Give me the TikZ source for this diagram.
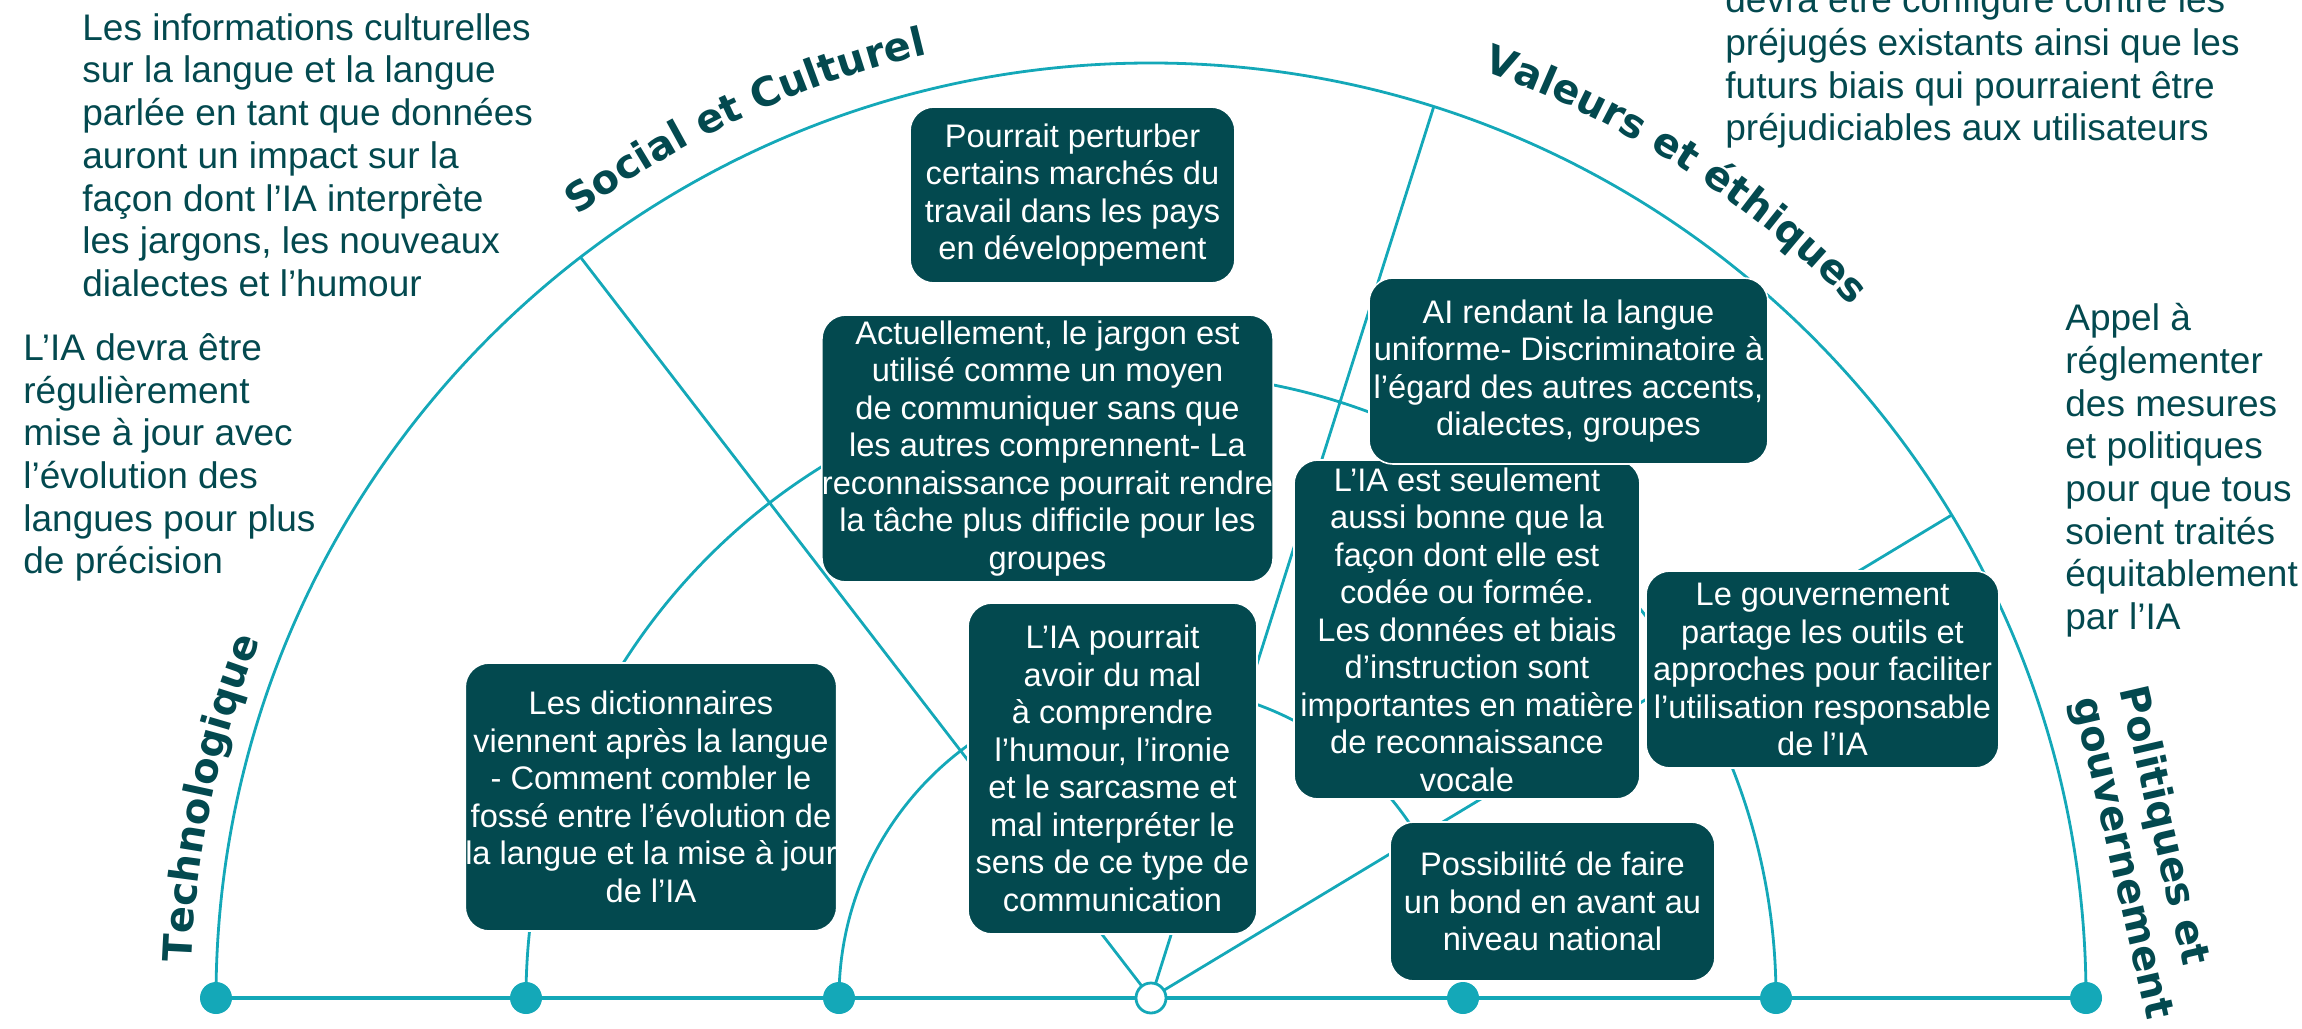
\documentclass[tikz,border=0pt]{standalone}
\usepackage{fontspec}
\setmainfont{Liberation Sans}
\newfontfamily\headfam{DejaVu Sans}
\usetikzlibrary{decorations.text}
\definecolor{lineteal}{RGB}{20,168,184}
\definecolor{boxfill}{RGB}{3,73,79}
\definecolor{darkteal}{RGB}{3,73,79}
\newcommand\bxfont{\fontsize{16.3}{18.75}\selectfont}
\newcommand\otfont{\fontsize{18.5}{21.35}\selectfont}
\newcommand\hdfont{\headfam\bfseries\fontsize{20}{23.5}\selectfont}
\begin{document}
\begin{tikzpicture}[x=0.5pt,y=0.5pt,
  arcline/.style={draw=lineteal, line width=1.4pt},
  baseln/.style={draw=lineteal, line width=2pt},
  dot/.style={circle, fill=lineteal, minimum size=16pt, inner sep=0pt},
  hollow/.style={circle, fill=white, draw=lineteal, line width=1.4pt, minimum size=15pt, inner sep=0pt},
  box/.style={rounded corners=12pt, fill=boxfill, draw=white, line width=0.8pt, text=white, align=center, inner sep=0pt, font=\bxfont},
  outtext/.style={text=darkteal, align=left, inner sep=0pt, anchor=north west, font=\otfont},
  heading/.style={decorate, decoration={text along path, text align=center, text={|\hdfont\color{darkteal}|#1}}},
]
\useasboundingbox (0,0) rectangle (2302,-1028);
\clip (0,0) rectangle (2302,-1028);

% base points
\coordinate (C) at (1151,-998);
\coordinate (p1) at (216,-998);
\coordinate (p2) at (526,-998);
\coordinate (p3) at (839,-998);
\coordinate (p5) at (1463,-998);
\coordinate (p6) at (1776,-998);
\coordinate (p7) at (2086,-998);
\path (C) ++(127.6:935) coordinate (ra);
\path (C) ++(72.4:935) coordinate (rb);
\path (C) ++(31.1:935) coordinate (rc);

% arcs and radial lines
\draw[arcline] (p1) arc[start angle=180, end angle=0, radius=935];
\draw[arcline] (p2) arc[start angle=180, end angle=0, radius=625];
\draw[arcline] (p3) arc[start angle=180, end angle=0, radius=312];
\draw[arcline] (C) -- (ra);
\draw[arcline] (C) -- (rb);
\draw[arcline] (C) -- (rc);
\draw[baseln] (p1) -- (p7);

% dots
\node[dot] (d1) at (p1) {};
\node[dot] (d2) at (p2) {};
\node[dot] (d3) at (p3) {};
\node[hollow] (ctr) at (C) {};
\node[dot] (d5) at (p5) {};
\node[dot] (d6) at (p6) {};
\node[dot] (d7) at (p7) {};

% boxes
\node[box, minimum width=162.5pt, minimum height=88pt] (bP) at (1072.5,-195)
  {Pourrait perturber\\certains marchés du\\travail dans les pays\\en développement};
\node[box, minimum width=223.5pt, minimum height=133.5pt] (bA) at (1047.5,-448.5)
  {Actuellement, le jargon est\\utilisé comme un moyen\\de communiquer sans que\\les autres comprennent- La\\reconnaissance pourrait rendre\\la tâche plus difficile pour les\\groupes};
\node[box, minimum width=173pt, minimum height=169.5pt] (bS) at (1467,-629.5)
  {L’IA est seulement\\aussi bonne que la\\façon dont elle est\\codée ou formée.\\Les données et biais\\d’instruction sont\\importantes en matière\\de reconnaissance\\vocale};
\node[box, minimum width=199.5pt, minimum height=93pt] (bR) at (1568.5,-371)
  {AI rendant la langue\\uniforme- Discriminatoire à\\l’égard des autres accents,\\dialectes, groupes};
\node[box, minimum width=144.5pt, minimum height=165.5pt] (bL) at (1112.5,-768.5)
  {L’IA pourrait\\avoir du mal\\à comprendre\\l’humour, l’ironie\\et le sarcasme et\\mal interpréter le\\sens de ce type de\\communication};
\node[box, minimum width=183pt, minimum height=134pt] (bD) at (651,-797)
  {Les dictionnaires\\viennent après la langue\\- Comment combler le\\fossé entre l’évolution de\\la langue et la mise à jour\\de l’IA};
\node[box, minimum width=176.5pt, minimum height=98.5pt] (bG) at (1822.5,-669.5)
  {Le gouvernement\\partage les outils et\\approches pour faciliter\\l’utilisation responsable\\de l’IA};
\node[box, minimum width=162.5pt, minimum height=79.5pt] (bPo) at (1552.5,-901.5)
  {Possibilité de faire\\un bond en avant au\\niveau national};

% outside texts
\node[outtext] (t1) at (82,-13)
  {Les informations culturelles\\sur la langue et la langue\\parlée en tant que données\\auront un impact sur la\\façon dont l’IA interprète\\les jargons, les nouveaux\\dialectes et l’humour};
\node[outtext] (t2) at (23,-333)
  {L’IA devra être\\régulièrement\\mise à jour avec\\l’évolution des\\langues pour plus\\de précision};
\node[outtext] (t3) at (1725,15)
  {devra être configuré contre les\\préjugés existants ainsi que les\\futurs biais qui pourraient être\\préjudiciables aux utilisateurs};
\node[outtext] (t4) at (2065,-303)
  {Appel à\\réglementer\\des mesures\\et politiques\\pour que tous\\soient traités\\équitablement\\par l’IA};

% headings
\path[heading={Technologique}] (C) ++(188:960) arc[start angle=188, end angle=148, radius=960];
\path[heading={Social et Culturel}] (C) ++(134.8:970) arc[start angle=134.8, end angle=94.8, radius=970];
\path[heading={Valeurs et éthiques}] (C) ++(77.5:985) arc[start angle=77.5, end angle=37.5, radius=985];
\node[rotate=-77, align=left, font=\hdfont, text=darkteal, inner sep=0pt] (pol) at (2144,-853)
  {Politiques et\\gouvernement};
\end{tikzpicture}
\end{document}
